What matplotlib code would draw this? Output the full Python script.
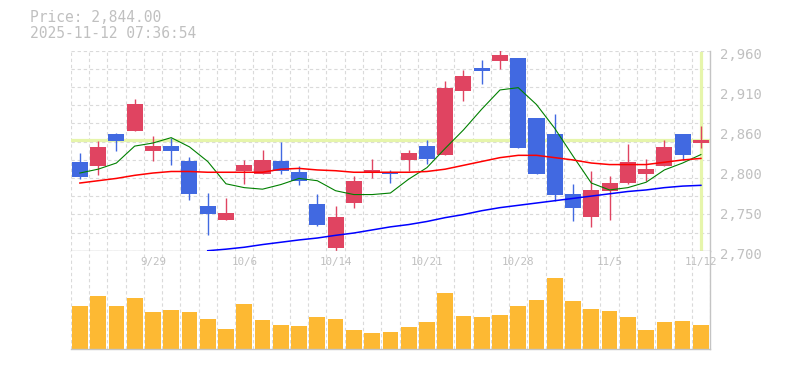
import matplotlib
matplotlib.use('Agg')
import matplotlib.pyplot as plt
from matplotlib.transforms import ScaledTranslation
import numpy as np

# daily candles, 9/22 .. 11/12
dates = ['9/22', '9/24', '9/25', '9/26', '9/29', '9/30', '10/1', '10/2', '10/3',
         '10/6', '10/7', '10/8', '10/9', '10/10', '10/14', '10/15', '10/16', '10/17',
         '10/20', '10/21', '10/22', '10/23', '10/24', '10/27', '10/28', '10/29',
         '10/30', '10/31', '11/4', '11/5', '11/6', '11/7', '11/10', '11/11', '11/12']
opens = [2815, 2810, 2852, 2856, 2830, 2836, 2817, 2758, 2740, 2803, 2800, 2817, 2802,
         2761, 2703, 2762, 2802, 2801, 2818, 2836, 2824, 2907, 2938, 2947, 2951, 2872,
         2852, 2774, 2744, 2778, 2788, 2800, 2810, 2852, 2840]
closes = [2796, 2835, 2843, 2891, 2836, 2830, 2774, 2748, 2749, 2811, 2818, 2804, 2790,
          2734, 2744, 2791, 2805, 2800, 2827, 2819, 2912, 2927, 2934, 2955, 2834, 2800,
          2772, 2755, 2779, 2788, 2815, 2806, 2835, 2825, 2844]
highs = [2827, 2842, 2853, 2897, 2849, 2847, 2822, 2775, 2768, 2818, 2831, 2841, 2810,
         2774, 2758, 2797, 2819, 2805, 2831, 2844, 2921, 2935, 2948, 2961, 2951, 2872,
         2878, 2787, 2804, 2797, 2839, 2819, 2844, 2852, 2862]
lows = [2793, 2799, 2829, 2856, 2816, 2812, 2766, 2721, 2740, 2787, 2800, 2800, 2785,
        2732, 2700, 2756, 2795, 2788, 2804, 2813, 2824, 2895, 2917, 2936, 2833, 2800,
        2765, 2739, 2731, 2740, 2787, 2790, 2810, 2818, 2834]
ma_short = [2801, 2806, 2814, 2836, 2840, 2847, 2835, 2816, 2787, 2782, 2780, 2786, 2794,
            2791, 2778, 2773, 2773, 2775, 2793, 2808, 2833, 2857, 2884, 2909, 2912, 2890,
            2859, 2823, 2788, 2779, 2782, 2789, 2805, 2814, 2825]
ma_mid = [2788, 2791, 2794, 2798, 2801, 2803, 2803, 2802, 2802, 2802, 2802, 2806, 2807,
          2805, 2804, 2802, 2802, 2802, 2802, 2803, 2806, 2811, 2816, 2821, 2824, 2824,
          2821, 2818, 2814, 2812, 2812, 2812, 2815, 2818, 2820]
ma_long = [np.nan] * 7 + [2700, 2702, 2704.5, 2708, 2711, 2714, 2716.5, 2720, 2723, 2727,
                          2731, 2734, 2738, 2743, 2747, 2752, 2756, 2759, 2762, 2765,
                          2768, 2771, 2774, 2777, 2779, 2782, 2784, 2785]
volumes = [430, 530, 430, 510, 370, 390, 370, 300, 200, 450, 290, 240, 230, 320, 300,
           190, 160, 170, 220, 270, 560, 330, 320, 340, 430, 490, 710, 480, 400, 380,
           320, 190, 270, 280, 240]

last_price = 2844
xtick_dates = ['9/29', '10/6', '10/14', '10/21', '10/28', '11/5', '11/12']
ytick_vals = [2700, 2752, 2804, 2856, 2908, 2960]
ytick_labels = ['2,700', '2,750', '2,800', '2,860', '2,910', '2,960']

UP = '#e04461'
DOWN = '#4169e1'
FRAME = '#c4c4c4'
TXT = '#c0c0c0'
GRID = '#dadada'
HILITE = '#e6f5ab'
mono = 'DejaVu Sans Mono'

fig = plt.figure(figsize=(7.85, 3.7), dpi=100)
ax = fig.add_axes([0.0901, 0.3224, 0.8144, 0.5405])
axv = fig.add_axes([0.0901, 0.0568, 0.8144, 0.2657])

x = np.arange(len(dates))
n = len(dates)

# price panel
ax.set_xlim(-0.5, n - 0.5)
ax.set_ylim(2700, 2960)
for g in np.linspace(2700, 2960, 12):
    ax.axhline(g, color=GRID, lw=0.8, ls=(0, (3, 2.5)), zorder=0)
for i in range(n + 1):
    ax.axvline(i - 0.5, color=GRID, lw=0.8, ls=(0, (3, 2.5)), zorder=0)

ax.axhline(last_price, color=HILITE, lw=2.3, zorder=1)
ax.axvline(x[-1], ymax=0.99, color=HILITE, lw=2.3, zorder=1)

for i in range(n):
    o, c = opens[i], closes[i]
    col = UP if c >= o else DOWN
    ax.vlines(x[i], lows[i], highs[i], color=col, lw=1.0, zorder=2)
    body = max(abs(c - o), 1.3)
    ax.bar(x[i], body, bottom=min(o, c), width=0.88, color=col, lw=0, zorder=3)

ax.plot(x, ma_short, color='#008000', lw=0.8, zorder=4)
ax.plot(x, ma_mid, color='#ff0000', lw=1.1, zorder=4)
ax.plot(x, ma_long, color='#0000ff', lw=1.1, zorder=4)

ax.yaxis.tick_right()
ax.set_yticks(ytick_vals)
ax.set_yticklabels(ytick_labels, fontfamily=mono, fontsize=10, color=TXT)
ax.tick_params(axis='y', length=0, pad=7)
for lbl in ax.get_yticklabels():
    lbl.set_transform(lbl.get_transform() + ScaledTranslation(0, -0.028, fig.dpi_scale_trans))
ax.set_xticks([])
for s in ['top', 'left']:
    ax.spines[s].set_visible(False)
for s in ['bottom', 'right']:
    ax.spines[s].set_color(FRAME)
    ax.spines[s].set_linewidth(1.0)

# volume panel
axv.set_xlim(-0.5, n - 0.5)
axv.set_ylim(0, 985)
for i in range(n + 1):
    axv.axvline(i - 0.5, color=GRID, lw=0.8, ls=(0, (3, 2.5)), zorder=0)
axv.bar(x, volumes, width=0.86, color='#fdb933', lw=0, zorder=2)
axv.set_xticks([])
axv.set_yticks([])
for s in ['top', 'left']:
    axv.spines[s].set_visible(False)
for s in ['bottom', 'right']:
    axv.spines[s].set_color(FRAME)
    axv.spines[s].set_linewidth(1.0)

for d in xtick_dates:
    axv.text(dates.index(d), 0.885, d, transform=axv.get_xaxis_transform(),
             ha='center', va='center', fontfamily=mono, fontsize=7.8, color=TXT, zorder=5)

fig.text(30 / 785, 1 - 18 / 370, 'Price: 2,844.00', fontfamily=mono, fontsize=10.5,
         color=TXT, va='center', ha='left')
fig.text(30 / 785, 1 - 33 / 370, '2025-11-12 07:36:54', fontfamily=mono, fontsize=10.5,
         color=TXT, va='center', ha='left')

fig.savefig('out.png', dpi=100)
